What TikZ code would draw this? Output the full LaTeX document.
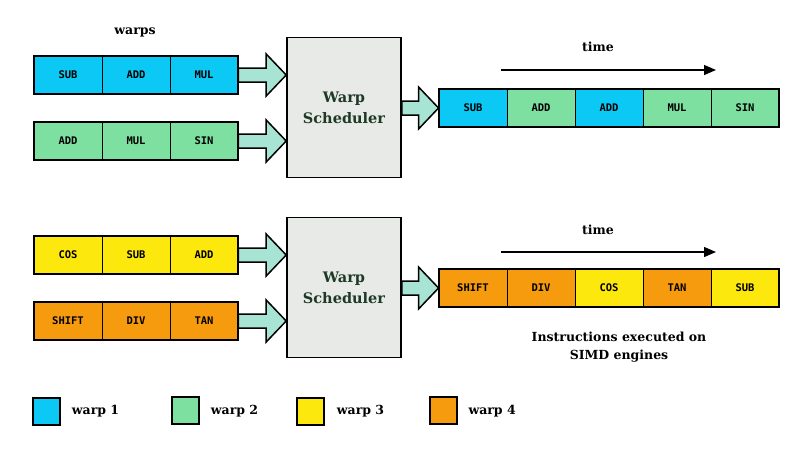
\documentclass[tikz,border=0pt]{standalone}
\usepackage{fontspec}
\setmainfont{DejaVu Serif}
\newfontfamily\cellfont{DejaVu Sans Mono}
\usetikzlibrary{calc,arrows.meta}
\definecolor{wone}{HTML}{0BC8F5}
\definecolor{wtwo}{HTML}{7DE0A0}
\definecolor{wthree}{HTML}{FCE80C}
\definecolor{wfour}{HTML}{F79B0E}
\definecolor{schedfill}{HTML}{E8EAE8}
\definecolor{arrowfill}{HTML}{A8E4D4}
\definecolor{schedtext}{HTML}{1E3A26}
\newcommand\blockarrow[2]{%
  \filldraw[fill=arrowfill,draw=black,line width=1.5pt,line join=miter]
    let \p1=(#1), \p2=(#2) in
    (\x1,\y1+7pt) -- (\x2-20pt,\y1+7pt) -- (\x2-20pt,\y1+21pt) -- (\x2,\y1)
    -- (\x2-20pt,\y1-21pt) -- (\x2-20pt,\y1-7pt) -- (\x1,\y1-7pt) -- cycle;}
\begin{document}
\begin{tikzpicture}[x=1pt,y=-1pt,
  cell/.style={draw, line width=0.9pt, minimum width=68pt, minimum height=36.5pt,
    inner sep=0pt, font=\cellfont\bfseries\fontsize{10.5}{12}\selectfont},
  rowframe/.style={draw, line width=2pt},
  sched/.style={draw, line width=1.6pt, fill=schedfill, minimum width=114pt,
    minimum height=140pt, align=center, text=schedtext,
    font=\bfseries\fontsize{14.5}{21}\selectfont},
  lbl/.style={font=\bfseries\fontsize{12.5}{17.5}\selectfont, inner sep=0pt},
  legsq/.style={draw, line width=2pt, minimum width=27pt, minimum height=27pt, inner sep=0pt},
  timearrow/.style={line width=1.3pt, -{Triangle[length=12pt,width=10pt]}}
]
\useasboundingbox (0,0) rectangle (800,450);

% ---------- top half ----------
\node[lbl] (warps) at (135,32) {warps};

\node[cell, fill=wone] (a1) at (68,75) {SUB};
\node[cell, fill=wone] (a2) at (136,75) {ADD};
\node[cell, fill=wone] (a3) at (204,75) {MUL};
\draw[rowframe] (a1.north west) rectangle (a3.south east);

\node[cell, fill=wtwo] (b1) at (68,141) {ADD};
\node[cell, fill=wtwo] (b2) at (136,141) {MUL};
\node[cell, fill=wtwo] (b3) at (204,141) {SIN};
\draw[rowframe] (b1.north west) rectangle (b3.south east);

\node[sched] (s1) at (344,107.5) {Warp\\Scheduler};

\node[cell, fill=wone] (o1) at (473,108) {SUB};
\node[cell, fill=wtwo] (o2) at (541,108) {ADD};
\node[cell, fill=wone] (o3) at (609,108) {ADD};
\node[cell, fill=wtwo] (o4) at (677,108) {MUL};
\node[cell, fill=wtwo] (o5) at (745,108) {SIN};
\draw[rowframe] (o1.north west) rectangle (o5.south east);

\blockarrow{a3.east}{s1.west |- a3.east}
\blockarrow{b3.east}{s1.west |- b3.east}
\blockarrow{s1.east |- o1.west}{o1.west}

\coordinate (t1a) at (501,70);
\coordinate (t1b) at (716,70);
\draw[timearrow] (t1a) -- (t1b);
\node[lbl] (time1) at (598,47) {time};

% ---------- bottom half ----------
\node[cell, fill=wthree] (c1) at (68,255) {COS};
\node[cell, fill=wthree] (c2) at (136,255) {SUB};
\node[cell, fill=wthree] (c3) at (204,255) {ADD};
\draw[rowframe] (c1.north west) rectangle (c3.south east);

\node[cell, fill=wfour] (d1) at (68,321) {SHIFT};
\node[cell, fill=wfour] (d2) at (136,321) {DIV};
\node[cell, fill=wfour] (d3) at (204,321) {TAN};
\draw[rowframe] (d1.north west) rectangle (d3.south east);

\node[sched] (s2) at (344,287.5) {Warp\\Scheduler};

\node[cell, fill=wfour] (p1) at (473,288) {SHIFT};
\node[cell, fill=wfour] (p2) at (541,288) {DIV};
\node[cell, fill=wthree] (p3) at (609,288) {COS};
\node[cell, fill=wfour] (p4) at (677,288) {TAN};
\node[cell, fill=wthree] (p5) at (745,288) {SUB};
\draw[rowframe] (p1.north west) rectangle (p5.south east);

\blockarrow{c3.east}{s2.west |- c3.east}
\blockarrow{d3.east}{s2.west |- d3.east}
\blockarrow{s2.east |- p1.west}{p1.west}

\coordinate (t2a) at (501,252);
\coordinate (t2b) at (716,252);
\draw[timearrow] (t2a) -- (t2b);
\node[lbl] (time2) at (598,230) {time};

\node[lbl, align=center] (instr) at (619,347) {Instructions executed on\\SIMD engines};

% ---------- legend ----------
\node[legsq, fill=wone] (l1) at (46.7,411) {};
\node[lbl, anchor=west] (lt1) at (71.7,411) {warp 1};
\node[legsq, fill=wtwo] (l2) at (185,410.5) {};
\node[lbl, anchor=west] (lt2) at (210.7,411) {warp 2};
\node[legsq, fill=wthree] (l3) at (310.5,411) {};
\node[lbl, anchor=west] (lt3) at (336.7,411) {warp 3};
\node[legsq, fill=wfour] (l4) at (443.3,410.5) {};
\node[lbl, anchor=west] (lt4) at (468.3,411) {warp 4};
\end{tikzpicture}
\end{document}
